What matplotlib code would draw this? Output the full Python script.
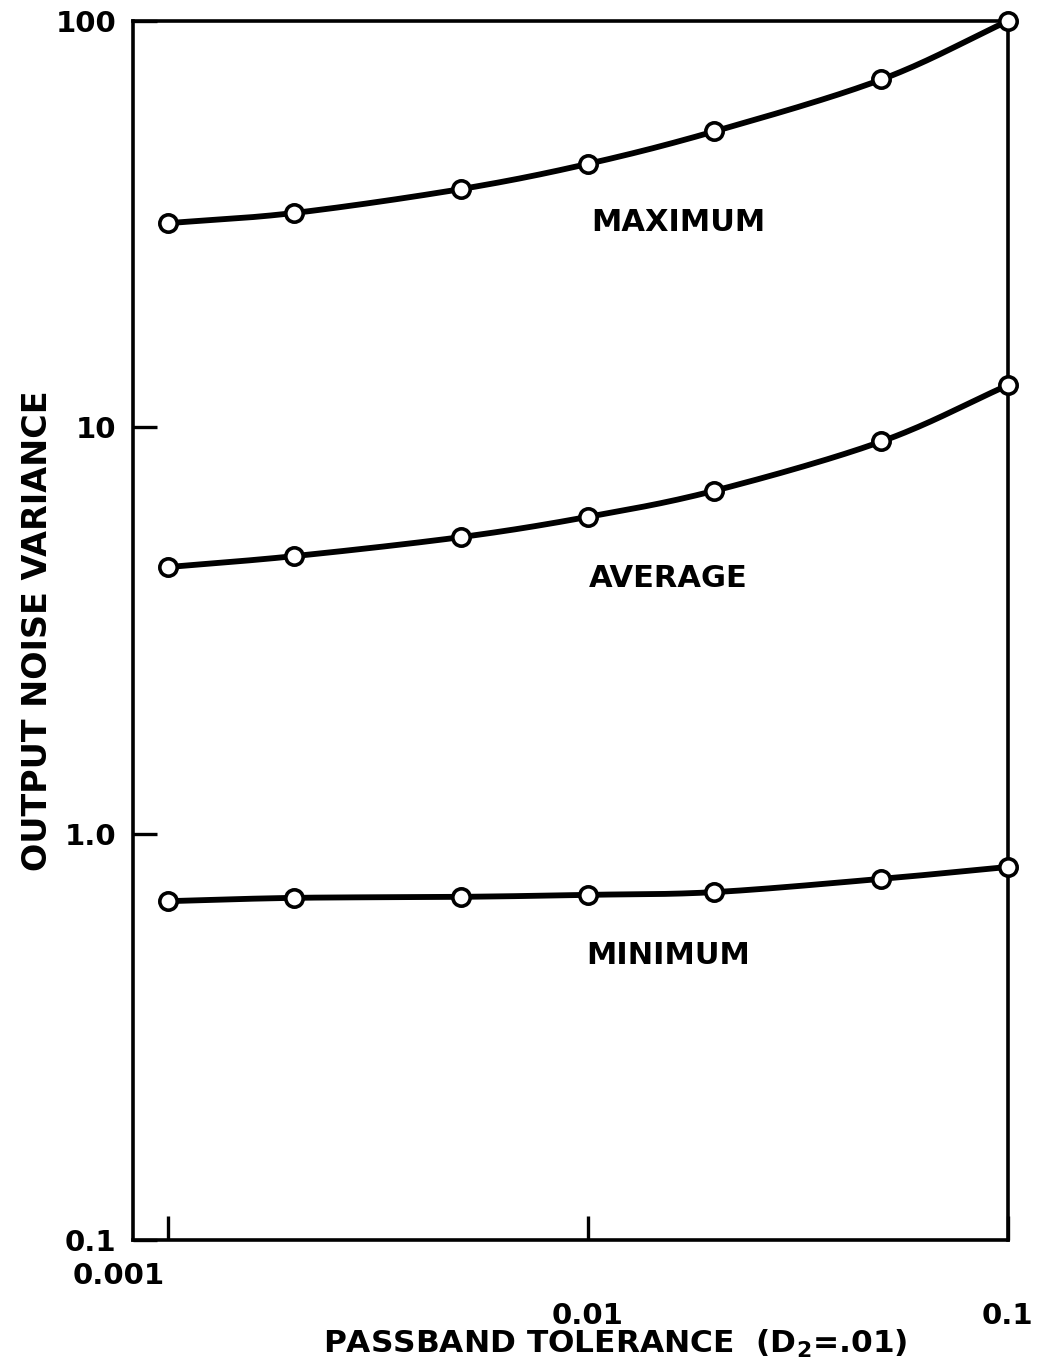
import numpy as np
import matplotlib
matplotlib.use("Agg")
import matplotlib.pyplot as plt
from matplotlib.ticker import FixedLocator, NullLocator
import matplotlib.transforms as mtransforms

# Data
tolerance = [0.001, 0.002, 0.005, 0.01, 0.02, 0.05, 0.1]
max_var = [31.8, 33.7, 38.6, 44.5, 53.5, 71.8, 100.0]
avg_var = [4.53, 4.82, 5.37, 6.02, 6.98, 9.23, 12.7]
min_var = [0.682, 0.695, 0.699, 0.707, 0.718, 0.774, 0.828]

curve_names = ["MAXIMUM", "AVERAGE", "MINIMUM"]
label_pos = [(0.0164, 32.0), (0.0155, 4.25), (0.0155, 0.50)]

x_ticks = [0.001, 0.01, 0.1]
x_tick_labels = ["0.001", "0.01", "0.1"]
y_ticks = [0.1, 1.0, 10, 100]
y_tick_labels = ["0.1", "1.0", "10", "100"]

plt.rcParams['font.family'] = ['DejaVu Sans']

fig = plt.figure(figsize=(10.38, 13.65), dpi=100)
ax = fig.add_axes([0.128, 0.0916, 0.843, 0.893])
ax.set_xscale('log')
ax.set_yscale('log')
ax.set_xlim(0.000826, 0.1)
ax.set_ylim(0.1, 100)


def smooth(xs, ys, n=30):
    # Catmull-Rom curve in log-log space, passing through the data points
    lx = np.log10(xs)
    ly = np.log10(ys)
    P = np.column_stack([lx, ly])
    P = np.vstack([2 * P[0] - P[1], P, 2 * P[-1] - P[-2]])
    out = []
    for i in range(1, len(P) - 2):
        p0, p1, p2, p3 = P[i - 1], P[i], P[i + 1], P[i + 2]
        t = np.linspace(0, 1, n, endpoint=False)[:, None]
        seg = 0.5 * ((2 * p1) + (-p0 + p2) * t + (2 * p0 - 5 * p1 + 4 * p2 - p3) * t ** 2
                     + (-p0 + 3 * p1 - 3 * p2 + p3) * t ** 3)
        out.append(seg)
    out.append(P[-2][None, :])
    out = np.vstack(out)
    return 10 ** out[:, 0], 10 ** out[:, 1]


for ys in (max_var, avg_var, min_var):
    sx, sy = smooth(tolerance, ys)
    ax.plot(sx, sy, color='black', lw=4.2, solid_capstyle='round', zorder=2, clip_on=False)
    ax.plot(tolerance, ys, linestyle='none', marker='o', markersize=12.5,
            markerfacecolor='white', markeredgecolor='black', markeredgewidth=2.6,
            zorder=3, clip_on=False)

for name, (lx, ly) in zip(curve_names, label_pos):
    ax.text(lx, ly, name, ha='center', va='center', fontsize=22, fontweight='bold')

for s in ax.spines.values():
    s.set_linewidth(2.6)

ax.xaxis.set_major_locator(FixedLocator(x_ticks))
ax.xaxis.set_minor_locator(NullLocator())
ax.set_xticklabels([""] + x_tick_labels[1:])
ax.yaxis.set_major_locator(FixedLocator(y_ticks))
ax.yaxis.set_minor_locator(NullLocator())
ax.set_yticklabels(y_tick_labels)
ax.tick_params(axis='both', direction='in', length=17, width=2.4, labelsize=21, pad=12)
ax.tick_params(axis='x', pad=45)
for lab in ax.get_xticklabels() + ax.get_yticklabels():
    lab.set_fontweight('bold')

# first x tick label sits up and to the left of its tick, as in the original
trans = mtransforms.blended_transform_factory(ax.transData, ax.transAxes)
ax.text(x_ticks[0], 0, x_tick_labels[0],
        transform=trans + mtransforms.ScaledTranslation(-3 / 100, -36 / 100, fig.dpi_scale_trans),
        ha='right', va='center', fontsize=21, fontweight='bold')

ax.set_xlabel('PASSBAND TOLERANCE  (D$_\\mathbf{2}$=.01)', fontsize=22.5, fontweight='bold', va='center')
ax.xaxis.set_label_coords(0.551, -0.0855)
ax.set_ylabel('OUTPUT NOISE VARIANCE', fontsize=24, fontweight='bold', va='center')
ax.yaxis.set_label_coords(-0.109, 0.5)

fig.savefig('out.png', dpi=100)
